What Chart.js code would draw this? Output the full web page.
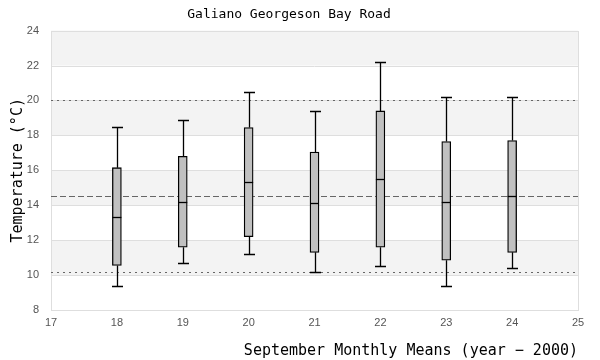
<!DOCTYPE html>
<html>
<head>
<meta charset="utf-8">
<script src="https://cdn.jsdelivr.net/npm/chart.js@4"></script>
<style>
  html, body { margin: 0; padding: 0; background: #fff; }
  #wrap { width: 600px; height: 360px; }
</style>
</head>
<body>
<div id="wrap"><canvas id="chart"></canvas></div>
<script>
// september monthly temperature summaries, year - 2000
const years = [18, 19, 20, 21, 22, 23, 24];
const mins = [9.4, 10.7, 11.2, 10.2, 10.5, 9.4, 10.4];
const q1s = [10.55, 11.6, 12.2, 11.3, 11.6, 10.85, 11.3];
const medians = [13.35, 14.2, 15.35, 14.15, 15.5, 14.2, 14.5];
const q3s = [16.15, 16.8, 18.45, 17.05, 19.4, 17.65, 17.7];
const maxs = [18.5, 18.9, 20.5, 19.4, 22.2, 20.2, 20.2];

// reference lines
const meanLine = 14.5;
const upperLine = 20;
const lowerLine = 10.2;

const yTicks = [8, 10, 12, 14, 16, 18, 20, 22, 24];

const bandsPlugin = {
  id: 'bands',
  beforeDatasetsDraw(chart) {
    const { ctx, chartArea, scales } = chart;
    const y = scales.y;
    ctx.save();
    // alternating grey bands
    for (let i = 0; i < yTicks.length - 1; i++) {
      if (i % 2 === 1) {
        const top = y.getPixelForValue(yTicks[i + 1]);
        const bot = y.getPixelForValue(yTicks[i]);
        ctx.fillStyle = '#f3f3f3';
        ctx.fillRect(chartArea.left, top, chartArea.right - chartArea.left, bot - top);
      }
    }
    // gridlines
    ctx.strokeStyle = '#dedede';
    ctx.lineWidth = 1;
    yTicks.forEach(v => {
      const py = Math.round(y.getPixelForValue(v)) + 0.5;
      ctx.beginPath();
      ctx.moveTo(chartArea.left, py);
      ctx.lineTo(chartArea.right, py);
      ctx.stroke();
    });
    ctx.strokeRect(Math.round(chartArea.left) + 0.5, Math.round(chartArea.top) + 0.5,
      Math.round(chartArea.right - chartArea.left), Math.round(chartArea.bottom - chartArea.top));

    // reference lines
    ctx.strokeStyle = '#666';
    ctx.lineWidth = 1.2;
    const hline = (v, dash) => {
      const py = Math.round(y.getPixelForValue(v)) + 0.5;
      ctx.setLineDash(dash);
      ctx.beginPath();
      ctx.moveTo(chartArea.left, py);
      ctx.lineTo(chartArea.right, py);
      ctx.stroke();
    };
    hline(meanLine, [6, 3]);
    hline(upperLine, [2, 4]);
    hline(lowerLine, [2, 4]);
    ctx.setLineDash([]);

    // whiskers
    const x = scales.x;
    ctx.strokeStyle = '#000';
    ctx.lineWidth = 1.3;
    years.forEach((yr, i) => {
      const px = Math.round(x.getPixelForValue(yr)) + 0.5;
      const cap = 5.5;
      [[q3s[i], maxs[i]], [q1s[i], mins[i]]].forEach(([a, b]) => {
        const pa = y.getPixelForValue(a);
        const pb = Math.round(y.getPixelForValue(b)) + 0.5;
        ctx.beginPath();
        ctx.moveTo(px, pa);
        ctx.lineTo(px, pb);
        ctx.moveTo(px - cap, pb);
        ctx.lineTo(px + cap, pb);
        ctx.stroke();
      });
    });
    ctx.restore();
  },
  afterDatasetsDraw(chart) {
    const { ctx, scales } = chart;
    ctx.save();
    ctx.strokeStyle = '#000';
    ctx.lineWidth = 1.3;
    years.forEach((yr, i) => {
      const px = scales.x.getPixelForValue(yr);
      const py = Math.round(scales.y.getPixelForValue(medians[i])) + 0.5;
      ctx.beginPath();
      ctx.moveTo(px - 4.5, py);
      ctx.lineTo(px + 4.5, py);
      ctx.stroke();
    });
    ctx.restore();
  }
};

new Chart(document.getElementById('chart'), {
  type: 'bar',
  data: {
    datasets: [{
      data: years.map((yr, i) => ({ x: yr, y: [q1s[i], q3s[i]] })),
      backgroundColor: '#c0c0c0',
      borderColor: '#000',
      borderWidth: 1.3,
      borderSkipped: false,
      barThickness: 9,
    }],
  },
  options: {
    responsive: true,
    maintainAspectRatio: false,
    animation: false,
    layout: { padding: { left: 0, right: 22, top: 0, bottom: 0 } },
    plugins: {
      legend: { display: false },
      tooltip: { enabled: false },
      title: {
        display: true,
        text: 'Galiano Georgeson Bay Road',
        color: '#000',
        font: { family: 'DejaVu Sans Mono', size: 13, weight: 'normal' },
        padding: { top: 7, bottom: 8 },
      },
    },
    scales: {
      x: {
        type: 'linear',
        offset: false,
        min: 17,
        max: 25,
        ticks: { stepSize: 1, color: '#555', font: { size: 11 }, padding: 6 },
        grid: { display: false, drawTicks: false, offset: false },
        border: { display: false },
        title: {
          display: true,
          text: 'September Monthly Means (year \u2212 2000)',
          align: 'end',
          color: '#000',
          font: { family: 'DejaVu Sans Mono', size: 15 },
          padding: { top: 6, bottom: 0 },
        },
        afterFit(scale) { scale.height = 50; },
      },
      y: {
        min: 8,
        max: 24,
        ticks: { stepSize: 2, color: '#555', font: { size: 11 }, padding: 12 },
        grid: { display: false, drawTicks: false },
        border: { display: false },
        title: {
          display: true,
          text: 'Temperature (\u00b0C)',
          color: '#000',
          font: { family: 'DejaVu Sans Mono', size: 15 },
          padding: { top: 9, bottom: 0 },
        },
        afterFit(scale) { scale.width = 51; },
      },
    },
  },
  plugins: [bandsPlugin],
});
</script>
</body>
</html>
